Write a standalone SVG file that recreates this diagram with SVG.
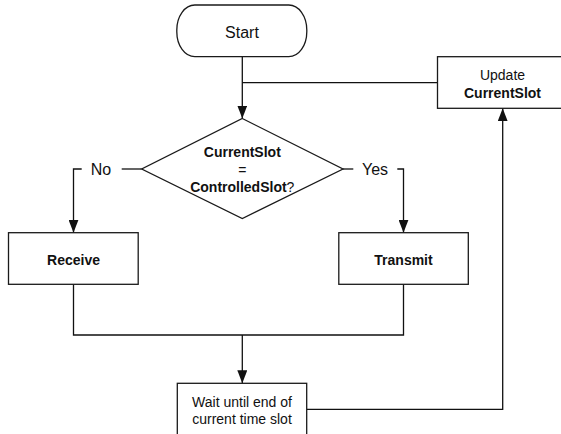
<svg xmlns="http://www.w3.org/2000/svg" width="561" height="434" viewBox="0 0 561 434">
  <style>
    .shape { fill: #ffffff; stroke: #1a1a1a; stroke-width: 1.3; }
    .edge { fill: none; stroke: #111111; stroke-width: 1.3; }
    text { font-family: "Liberation Sans", Arial, Helvetica, sans-serif; fill: #111111; text-anchor: middle; }
    .t14 { font-size: 14px; }
    .t16 { font-size: 16px; }
    .b { font-weight: bold; }
  </style>
  <defs>
    <marker id="arrow" viewBox="0 0 13 10" refX="13" refY="5" markerWidth="13" markerHeight="10" markerUnits="userSpaceOnUse" orient="auto">
      <path d="M0,0 L13,5 L0,10 Z" fill="#111111"/>
    </marker>
  </defs>

  <rect width="561" height="434" fill="#ffffff"/>

  <!-- connectors -->
  <g id="connectors">
    <!-- start to decision -->
    <path class="edge" d="M242.3,56.7 V118.5" marker-end="url(#arrow)"/>
    <!-- loop back from update -->
    <path class="edge" d="M437.5,82.7 H242.3"/>
    <!-- No branch -->
    <path class="edge" d="M141.7,169 H121.7"/>
    <path class="edge" d="M81.7,169 H73.5 V232.7" marker-end="url(#arrow)"/>
    <!-- Yes branch -->
    <path class="edge" d="M343,169 H353.3"/>
    <path class="edge" d="M397.3,169 H403.5 V232.7" marker-end="url(#arrow)"/>
    <!-- merge into wait -->
    <path class="edge" d="M73.5,284.3 V335 H403.5 V284.3"/>
    <path class="edge" d="M242.3,335 V383.3" marker-end="url(#arrow)"/>
    <!-- wait to update -->
    <path class="edge" d="M306.7,409.3 H502.7 V108.3" marker-end="url(#arrow)"/>
  </g>

  <g id="start">
    <rect class="shape" x="176.8" y="5" width="130" height="51.7" rx="18" ry="25"/>
    <text class="t16" x="242" y="37.5">Start</text>
  </g>

  <g id="decision">
    <polygon class="shape" points="242.3,118.5 343,169 242.3,218.5 141.7,169"/>
    <text class="t14 b" x="242.3" y="157">CurrentSlot</text>
    <text class="t14" x="242.3" y="174.5">=</text>
    <text class="t14" x="242.3" y="192"><tspan class="b">ControlledSlot</tspan>?</text>
  </g>

  <g id="label-no">
    <text class="t16" x="101" y="174.7">No</text>
  </g>
  <g id="label-yes">
    <text class="t16" x="375" y="174.7">Yes</text>
  </g>

  <g id="receive">
    <rect class="shape" x="8.5" y="232.7" width="129.7" height="51.6"/>
    <text class="t14 b" x="73.5" y="265">Receive</text>
  </g>

  <g id="transmit">
    <rect class="shape" x="338.8" y="232.7" width="129.5" height="51.6"/>
    <text class="t14 b" x="403.5" y="265">Transmit</text>
  </g>

  <g id="wait">
    <rect class="shape" x="177.3" y="383.3" width="129.4" height="60"/>
    <text class="t14" x="242" y="406.7">Wait until end of</text>
    <text class="t14" x="242" y="424">current time slot</text>
  </g>

  <g id="update">
    <rect class="shape" x="437.5" y="56.7" width="130" height="51.6"/>
    <text class="t14" x="502.5" y="80">Update</text>
    <text class="t14 b" x="502.5" y="97.5">CurrentSlot</text>
  </g>
</svg>
